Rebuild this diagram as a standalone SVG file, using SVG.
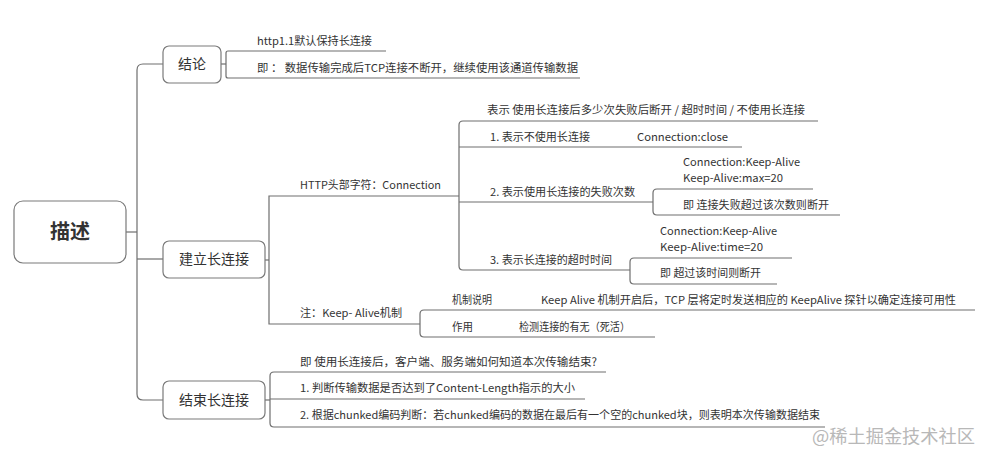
<svg xmlns="http://www.w3.org/2000/svg" width="989" height="462" viewBox="0 0 989 462">
<style>
.bg{fill:#ffffff}
.box{fill:#ffffff;stroke:#7a7a7a;stroke-width:1.2}
.ln{fill:none;stroke:#6e6e6e;stroke-width:1.2}
.t{font-family:"Noto Sans CJK SC","Liberation Sans",sans-serif;font-size:11px;fill:#333333}
.bt{font-family:"Noto Sans CJK SC","Liberation Sans",sans-serif;font-size:14px;fill:#333333;text-anchor:middle}
.rt{font-family:"Noto Sans CJK SC","Liberation Sans",sans-serif;font-size:20px;font-weight:bold;fill:#333333;text-anchor:middle}
.wm{font-family:"Noto Sans CJK SC","Liberation Sans",sans-serif;font-size:18px;fill:#b8b8b8}
</style>
<rect class="bg" x="0" y="0" width="989" height="462"/>
<g id="connectors">
<path class="ln" d="M126,232 H137"/>
<path class="ln" d="M163,64 H143 Q137,64 137,70 V394 Q137,400 143,400 H163"/>
<path class="ln" d="M137,259 H163"/>
<path class="ln" d="M221,64 H226"/>
<path class="ln" d="M386,51 H228 Q226,51 226,53 V76 Q226,78 228,78 H580"/>
<path class="ln" d="M265,260 H269"/>
<path class="ln" d="M459,196 H269 V324 H420"/>
<path class="ln" d="M818,121 H463 Q459,121 459,125 V266 Q459,270 463,270 H630"/>
<path class="ln" d="M459,147 H742"/>
<path class="ln" d="M459,202 H653"/>
<path class="ln" d="M813,189 H657 Q653,189 653,193 V211 Q653,215 657,215 H840"/>
<path class="ln" d="M792,258 H634 Q630,258 630,262 V280 Q630,284 634,284 H777"/>
<path class="ln" d="M975,310 H424 Q420,310 420,314 V333 Q420,337 424,337 H655"/>
<path class="ln" d="M265,400 H270"/>
<path class="ln" d="M606,372 H274 Q270,372 270,376 V423 Q270,427 274,427 H825"/>
<path class="ln" d="M270,399 H585"/>
</g>
<g id="root">
<rect class="box" x="14" y="201" width="112" height="62" rx="9"/>
<text class="rt" x="70" y="239">描述</text>
</g>
<g id="n-conclusion">
<rect class="box" x="163" y="46" width="58" height="37" rx="6"/>
<text class="bt" x="192" y="69">结论</text>
</g>
<g id="n-conclusion-1"><text class="t" x="257" y="45" textLength="115" lengthAdjust="spacingAndGlyphs">http1.1默认保持长连接</text></g>
<g id="n-conclusion-2"><text class="t" x="257" y="72" textLength="321" lengthAdjust="spacingAndGlyphs">即 ： 数据传输完成后TCP连接不断开，继续使用该通道传输数据</text></g>
<g id="n-establish">
<rect class="box" x="163" y="241" width="102" height="37" rx="6"/>
<text class="bt" x="214" y="264">建立长连接</text>
</g>
<g id="n-http"><text class="t" x="300" y="189" textLength="141" lengthAdjust="spacingAndGlyphs">HTTP头部字符：Connection</text></g>
<g id="n-http-0"><text class="t" x="487" y="114" textLength="318" lengthAdjust="spacingAndGlyphs">表示 使用长连接后多少次失败后断开 / 超时时间 /  不使用长连接</text></g>
<g id="n-http-1">
<text class="t" x="490" y="141" textLength="100" lengthAdjust="spacingAndGlyphs">1. 表示不使用长连接</text>
<text class="t" x="637" y="141" textLength="91" lengthAdjust="spacingAndGlyphs">Connection:close</text>
</g>
<g id="n-http-2"><text class="t" x="490" y="196" textLength="145" lengthAdjust="spacingAndGlyphs">2. 表示使用长连接的失败次数</text></g>
<g id="n-http-2a">
<text class="t" x="683" y="166" textLength="117" lengthAdjust="spacingAndGlyphs">Connection:Keep-Alive</text>
<text class="t" x="683" y="182" textLength="100" lengthAdjust="spacingAndGlyphs">Keep-Alive:max=20</text>
</g>
<g id="n-http-2b"><text class="t" x="683" y="209" textLength="146" lengthAdjust="spacingAndGlyphs">即 连接失败超过该次数则断开</text></g>
<g id="n-http-3"><text class="t" x="490" y="264" textLength="122" lengthAdjust="spacingAndGlyphs">3. 表示长连接的超时时间</text></g>
<g id="n-http-3a">
<text class="t" x="660" y="235" textLength="117" lengthAdjust="spacingAndGlyphs">Connection:Keep-Alive</text>
<text class="t" x="660" y="251" textLength="103" lengthAdjust="spacingAndGlyphs">Keep-Alive:time=20</text>
</g>
<g id="n-http-3b"><text class="t" x="660" y="277" textLength="101" lengthAdjust="spacingAndGlyphs">即 超过该时间则断开</text></g>
<g id="n-keepalive"><text class="t" x="300" y="317" textLength="102" lengthAdjust="spacingAndGlyphs">注：Keep- Alive机制</text></g>
<g id="n-keepalive-1">
<text class="t" x="452" y="304" textLength="40" lengthAdjust="spacingAndGlyphs">机制说明</text>
<text class="t" x="541" y="304" textLength="415" lengthAdjust="spacingAndGlyphs">Keep Alive 机制开启后，TCP 层将定时发送相应的 KeepAlive 探针以确定连接可用性</text>
</g>
<g id="n-keepalive-2">
<text class="t" x="452" y="331" textLength="21" lengthAdjust="spacingAndGlyphs">作用</text>
<text class="t" x="519" y="331" textLength="111" lengthAdjust="spacingAndGlyphs">检测连接的有无（死活）</text>
</g>
<g id="n-end">
<rect class="box" x="163" y="381" width="102" height="38" rx="6"/>
<text class="bt" x="214" y="405">结束长连接</text>
</g>
<g id="n-end-0"><text class="t" x="300" y="366" textLength="297" lengthAdjust="spacingAndGlyphs">即 使用长连接后，客户端、服务端如何知道本次传输结束?</text></g>
<g id="n-end-1"><text class="t" x="300" y="392" textLength="275" lengthAdjust="spacingAndGlyphs">1. 判断传输数据是否达到了Content-Length指示的大小</text></g>
<g id="n-end-2"><text class="t" x="300" y="419" textLength="520" lengthAdjust="spacingAndGlyphs">2. 根据chunked编码判断：若chunked编码的数据在最后有一个空的chunked块，则表明本次传输数据结束</text></g>
<text class="wm" x="812" y="443" textLength="163" lengthAdjust="spacingAndGlyphs">@稀土掘金技术社区</text>
</svg>
